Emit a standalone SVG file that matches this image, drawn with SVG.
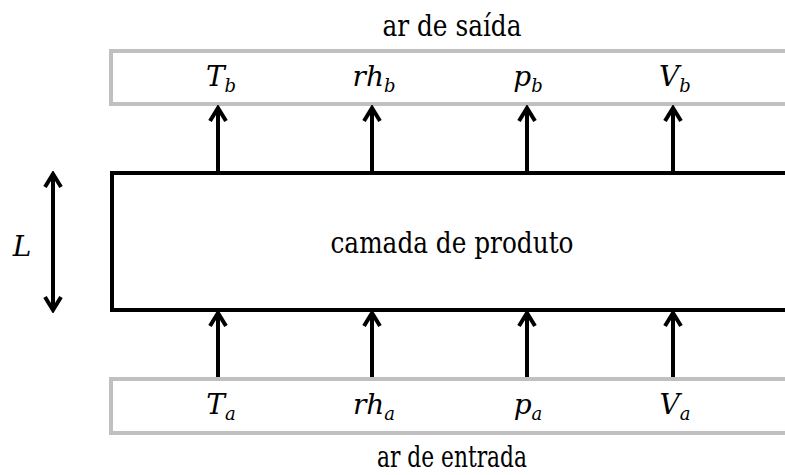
<svg xmlns="http://www.w3.org/2000/svg" width="785" height="475" viewBox="0 0 785 475">
<defs>
<marker id="ah" markerUnits="userSpaceOnUse" markerWidth="24" markerHeight="24" refX="21" refY="12" orient="auto-start-reverse" viewBox="0 0 24 24">
<path d="M8,4 L21,12 L8,20" fill="none" stroke="#000" stroke-width="4" stroke-linejoin="miter"/>
</marker>
<style>
text{font-family:"DejaVu Serif","Liberation Serif","Times New Roman",serif}
.air{fill:none;stroke:#c0c0c0;stroke-width:4}
.bed{fill:none;stroke:#000;stroke-width:4}
.ar{stroke:#000;stroke-width:4;fill:none;marker-end:url(#ah)}
.t{font-size:29px;fill:#000;text-anchor:middle}
.m{font-size:28px;font-style:italic;fill:#000;text-anchor:middle}
.s{font-size:18px}
</style>
</defs>
<rect width="785" height="475" fill="#fff"/>
<g id="outlet">
<rect class="air" x="111" y="51" width="700" height="53"/>
<text class="t" x="452" y="36" textLength="139" lengthAdjust="spacingAndGlyphs">ar de saída</text>
<text class="m" x="221" y="86">T<tspan class="s" dy="6">b</tspan></text>
<text class="m" x="374" y="86">rh<tspan class="s" dy="6">b</tspan></text>
<text class="m" x="528" y="86">p<tspan class="s" dy="6">b</tspan></text>
<text class="m" x="675" y="86">V<tspan class="s" dy="6">b</tspan></text>
</g>
<g id="bed">
<rect class="bed" x="112" y="173" width="700" height="137"/>
<text class="t" x="452" y="253" textLength="243" lengthAdjust="spacingAndGlyphs">camada de produto</text>
</g>
<g id="inlet">
<rect class="air" x="111" y="379" width="700" height="54"/>
<text class="t" x="452" y="467" font-size="28" textLength="150" lengthAdjust="spacingAndGlyphs">ar de entrada</text>
<text class="m" x="221" y="414">T<tspan class="s" dy="6">a</tspan></text>
<text class="m" x="374" y="414">rh<tspan class="s" dy="6">a</tspan></text>
<text class="m" x="528" y="414">p<tspan class="s" dy="6">a</tspan></text>
<text class="m" x="675" y="414">V<tspan class="s" dy="6">a</tspan></text>
</g>
<g id="thickness">
<text class="m" x="22" y="256">L</text>
</g>
<g id="connectors">
<line class="ar" x1="218" y1="173" x2="218" y2="108"/>
<line class="ar" x1="372" y1="173" x2="372" y2="108"/>
<line class="ar" x1="527" y1="173" x2="527" y2="108"/>
<line class="ar" x1="673" y1="173" x2="673" y2="108"/>
<line class="ar" x1="218" y1="377" x2="218" y2="313"/>
<line class="ar" x1="372" y1="377" x2="372" y2="313"/>
<line class="ar" x1="527" y1="377" x2="527" y2="313"/>
<line class="ar" x1="673" y1="377" x2="673" y2="313"/>
<line class="ar" x1="53" y1="310" x2="53" y2="174" style="marker-start:url(#ah)"/>
</g>
</svg>
